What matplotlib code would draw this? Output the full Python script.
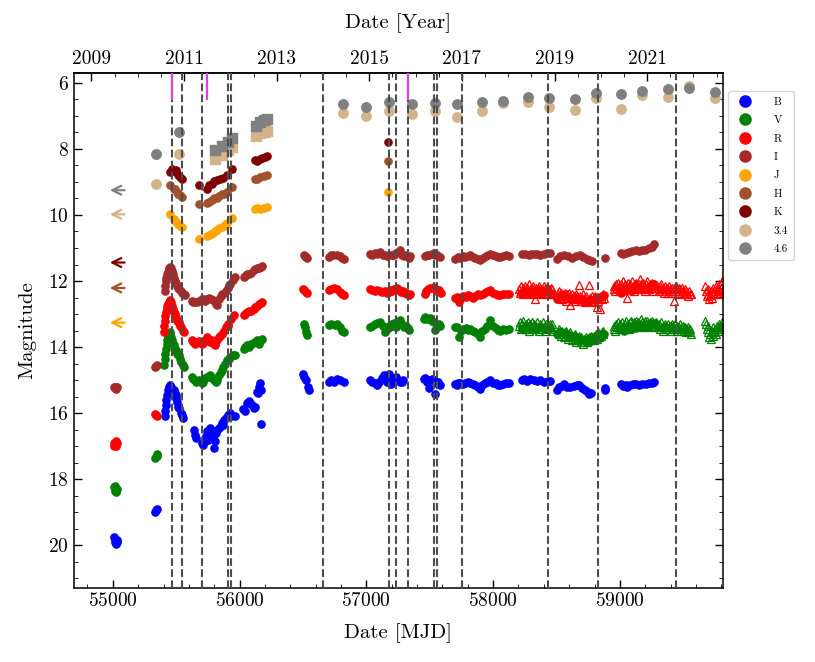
import matplotlib
matplotlib.use("Agg")
import matplotlib.pyplot as plt
from matplotlib.ticker import MultipleLocator, FixedLocator, AutoMinorLocator, FormatStrFormatter

# ── Optical light curves (filled circles) ──────────────────────────────────────
B_mjd = [55010, 55015, 55020, 55025, 55030, 55035,
         55335, 55342, 55350,
         55408, 55412, 55418, 55422, 55428, 55434, 55440, 55446, 55452, 55458,
         55480, 55488, 55495, 55502, 55510, 55518, 55525, 55535, 55545, 55555,
         55640, 55648, 55655, 55700, 55712, 55725, 55735, 55742, 55750, 55760, 55770,
         55780, 55790, 55800, 55805, 55815, 55825, 55835, 55850, 55860, 55870, 55880,
         55895, 55910, 55925, 55935, 55960,
         56030, 56045, 56060, 56072, 56085, 56100, 56115, 56125, 56135, 56145, 56155,
         56163, 56170, 56165,
         56500, 56510, 56525, 56540, 56545,
         56705, 56720, 56745, 56768, 56790, 56820,
         57025, 57045, 57070, 57084, 57100, 57120, 57136, 57150, 57165, 57175, 57185,
         57195, 57205, 57220, 57235, 57250, 57265, 57281, 57290,
         57455, 57465, 57480, 57491, 57505, 57520, 57530, 57538, 57550, 57565, 57583,
         57700, 57712, 57725, 57740, 57760, 57780, 57800, 57820, 57840, 57860, 57880,
         57899, 57915, 57935, 57955, 57978, 58000, 58020, 58040, 58057, 58080, 58100, 58122,
         58225, 58245, 58265, 58294, 58320, 58345, 58373, 58400, 58430, 58450,
         58500, 58520, 58540, 58557, 58580, 58610, 58640, 58660, 58675, 58700, 58728,
         58745, 58760, 58775, 58880, 58886,
         59005, 59025, 59045, 59057, 59080, 59100, 59123, 59150, 59175, 59202, 59230,
         59250, 59267]
B_mag = [19.75, 19.9, 19.8, 19.95, 19.85, 19.9,
         18.98, 18.93, 18.9,
         16.1, 15.95, 15.75, 15.6, 15.45, 15.3, 15.25, 15.2, 15.16, 15.2,
         15.3, 15.4, 15.45, 15.55, 15.65, 15.8, 15.85, 16.0, 16.05, 16.15,
         16.5, 16.65, 16.75, 16.9, 16.95, 16.85, 16.7, 16.55, 16.8, 16.6, 16.45,
         16.55, 16.7, 17.05, 16.85, 16.6, 16.5, 16.45, 16.4, 16.3, 16.35, 16.2,
         16.15, 16.05, 16.0, 16.1, 16.1,
         15.87, 15.95, 15.7, 15.62, 15.7, 15.75, 15.85, 15.8, 15.35, 15.4, 15.2,
         15.1, 15.3, 16.32,
         14.81, 14.9, 15.01, 15.2, 15.3,
         15.05, 15.01, 15.05, 14.96, 15.0, 15.06,
         14.99, 15.05, 15.1, 15.16, 15.05, 14.95, 14.86, 14.95, 15.05, 14.81, 14.9,
         15.11, 15.0, 14.95, 14.91, 15.0, 15.05, 15.06, 15.0,
         14.96, 14.95, 15.05, 15.23, 15.0, 14.98, 15.01, 15.41, 15.1, 15.05, 15.16,
         15.11, 15.15, 15.1, 15.08, 15.12, 15.1, 15.06, 15.09, 15.12, 15.15, 15.2,
         15.26, 15.15, 15.1, 15.06, 15.01, 15.08, 15.1, 15.14, 15.16, 15.12, 15.1, 15.09,
         15.01, 14.98, 15.02, 14.96, 15.0, 15.03, 15.01, 15.05, 15.04, 15.02,
         15.29, 15.2, 15.18, 15.13, 15.2, 15.21, 15.19, 15.15, 15.16, 15.24, 15.31,
         15.36, 15.41, 15.38, 15.25, 15.31,
         15.13, 15.18, 15.15, 15.21, 15.14, 15.12, 15.11, 15.15, 15.13, 15.13, 15.1,
         15.08, 15.06]

V_mjd = [55010, 55015, 55020, 55025, 55030,
         55335, 55345, 55352,
         55405, 55410, 55415, 55420, 55425, 55430, 55436, 55442, 55448, 55455, 55462,
         55470, 55478, 55485, 55492, 55500, 55510, 55520, 55530, 55540, 55550, 55560,
         55625, 55635, 55645, 55660, 55680, 55700, 55715, 55730, 55745, 55760, 55768,
         55780, 55795, 55810, 55821, 55835, 55850, 55860, 55873, 55885, 55900, 55915,
         55926, 55945, 55965,
         56031, 56045, 56060, 56075, 56090, 56105, 56120, 56135, 56150, 56165, 56176,
         56505, 56515, 56525, 56535,
         56705, 56725, 56750, 56768, 56790, 56810, 56822,
         57025, 57045, 57065, 57085, 57110, 57130, 57150, 57160, 57175, 57190, 57205,
         57220, 57235, 57250, 57268, 57280, 57295, 57310, 57325, 57333,
         57455, 57465, 57480, 57500, 57515, 57530, 57544, 57555, 57570, 57583,
         57700, 57715, 57728, 57745, 57765, 57785, 57805, 57820, 57840, 57860, 57880,
         57899, 57915, 57935, 57955, 57978, 58000, 58020, 58040, 58057, 58080, 58100, 58122,
         58230, 58260, 58300, 58340, 58380, 58420, 58450, 58500, 58530, 58560, 58600,
         58640, 58680, 58720, 58754, 58780, 58810, 58840, 58872,
         59005, 59030, 59060, 59090, 59120, 59150, 59180, 59210, 59240, 59267]
V_mag = [18.25, 18.35, 18.2, 18.4, 18.3,
         17.35, 17.3, 17.25,
         14.55, 14.35, 14.2, 14.05, 13.9, 13.8, 13.7, 13.6, 13.55, 13.6, 13.7,
         13.8, 13.9, 13.95, 14.05, 14.1, 14.2, 14.25, 14.35, 14.45, 14.55, 14.6,
         14.9, 14.96, 15.0, 15.05, 15.0, 15.08, 15.06, 14.95, 14.9, 14.88, 14.86,
         14.95, 15.0, 15.05, 15.01, 14.85, 14.75, 14.7, 14.61, 14.5, 14.4, 14.35,
         14.3, 14.25, 14.25,
         14.05, 14.0, 13.95, 14.0, 13.92, 13.88, 13.85, 13.8, 13.9, 13.78, 13.75,
         13.3, 13.38, 13.55, 13.62,
         13.34, 13.3, 13.32, 13.29, 13.4, 13.5, 13.55,
         13.39, 13.35, 13.3, 13.28, 13.24, 13.35, 13.55, 13.45, 13.35, 13.4, 13.3,
         13.28, 13.38, 13.3, 13.19, 13.3, 13.4, 13.35, 13.42, 13.49,
         13.15, 13.09, 13.15, 13.12, 13.2, 13.25, 13.49, 13.35, 13.3, 13.35,
         13.4, 13.39, 13.7, 13.5, 13.45, 13.42, 13.48, 13.45, 13.5, 13.55, 13.6,
         13.7, 13.5, 13.45, 13.35, 13.19, 13.35, 13.42, 13.48, 13.5, 13.45, 13.48, 13.45,
         13.45, 13.4, 13.42, 13.45, 13.4, 13.45, 13.42, 13.6, 13.55, 13.58, 13.62,
         13.65, 13.72, 13.78, 13.85, 13.8, 13.75, 13.7, 13.59,
         13.45, 13.5, 13.4, 13.45, 13.42, 13.38, 13.35, 13.4, 13.3, 13.28]

R_mjd = [55008, 55012, 55018, 55022, 55026, 55030,
         55335, 55342, 55350,
         55400, 55405, 55410, 55415, 55420, 55425, 55430, 55436, 55442, 55448, 55455,
         55462, 55470, 55478, 55485, 55492, 55500, 55510, 55520, 55530, 55540, 55550, 55560,
         55625, 55636, 55650, 55662, 55680, 55700, 55715, 55730, 55742, 55755, 55770,
         55785, 55795, 55807, 55820, 55835, 55848, 55860, 55875, 55890, 55905, 55912,
         55930, 55952,
         56031, 56045, 56060, 56075, 56090, 56110, 56125, 56140, 56155, 56165, 56176,
         56500, 56510, 56520, 56530,
         56705, 56725, 56745, 56768, 56790, 56805, 56820,
         57025, 57045, 57065, 57085, 57105, 57125, 57145, 57160, 57175, 57190, 57205,
         57220, 57242, 57260, 57275, 57290, 57305, 57320, 57335, 57345,
         57460, 57470, 57485, 57500, 57515, 57530, 57545, 57560, 57575, 57585,
         57700, 57715, 57728, 57745, 57765, 57785, 57805, 57820, 57840, 57860, 57880,
         57899, 57920, 57940, 57960, 57978, 58000, 58020, 58040, 58057, 58080, 58100, 58122,
         58220, 58250, 58280, 58310, 58340, 58370, 58400, 58430, 58460, 58504, 58530,
         58560, 58590, 58620, 58650, 58680, 58710, 58741, 58770, 58800, 58830, 58860, 58872,
         59005, 59030, 59060, 59090, 59120, 59150, 59180, 59210, 59240, 59267]
R_mag = [16.9, 17.0, 16.95, 16.85, 17.0, 16.9,
         16.02, 16.05, 16.1,
         13.55, 13.35, 13.2, 13.05, 12.95, 12.85, 12.75, 12.7, 12.62, 12.58, 12.6,
         12.65, 12.75, 12.85, 12.95, 13.0, 13.1, 13.2, 13.25, 13.35, 13.4, 13.5, 13.55,
         13.8, 13.85, 13.9, 13.85, 13.82, 13.9, 13.88, 13.8, 13.7, 13.78, 13.85,
         13.8, 13.9, 13.95, 13.8, 13.7, 13.65, 13.59, 13.5, 13.4, 13.35, 13.29,
         13.15, 13.04,
         13.04, 13.0, 12.95, 12.9, 12.92, 12.84, 12.8, 12.75, 12.7, 12.68, 12.64,
         12.25, 12.28, 12.32, 12.35,
         12.28, 12.25, 12.22, 12.25, 12.32, 12.38, 12.41,
         12.23, 12.28, 12.3, 12.27, 12.3, 12.33, 12.3, 12.35, 12.33, 12.28, 12.3,
         12.25, 12.2, 12.28, 12.32, 12.3, 12.35, 12.38, 12.43, 12.4,
         12.4, 12.3, 12.25, 12.22, 12.2, 12.18, 12.25, 12.3, 12.28, 12.35,
         12.5, 12.48, 12.64, 12.5, 12.45, 12.48, 12.42, 12.45, 12.5, 12.45, 12.4,
         12.43, 12.38, 12.32, 12.3, 12.28, 12.35, 12.4, 12.42, 12.43, 12.38, 12.4, 12.38,
         12.35, 12.3, 12.35, 12.32, 12.3, 12.35, 12.32, 12.3, 12.4, 12.54, 12.45,
         12.42, 12.48, 12.5, 12.52, 12.55, 12.6, 12.64, 12.58, 12.55, 12.5, 12.45, 12.43,
         12.35, 12.3, 12.25, 12.3, 12.25, 12.2, 12.25, 12.2, 12.15, 12.1]

I_mjd = [55010, 55015, 55020, 55025, 55030,
         55335, 55342, 55350,
         55408, 55412, 55418, 55422, 55428, 55434, 55440, 55446, 55452, 55458, 55465,
         55472, 55480, 55488, 55495, 55505, 55515, 55525, 55535, 55545, 55560, 55571,
         55625, 55636, 55650, 55665, 55680, 55700, 55715, 55730, 55745, 55760, 55775,
         55794, 55810, 55821, 55835, 55850, 55865, 55873, 55890, 55905, 55915, 55926,
         55945, 55965,
         56031, 56045, 56060, 56075, 56090, 56110, 56125, 56140, 56155, 56165, 56176,
         56505, 56515, 56525, 56535,
         56702, 56720, 56740, 56768, 56790, 56805, 56820,
         57025, 57045, 57065, 57085, 57110, 57130, 57150, 57163, 57180, 57200, 57215,
         57230, 57250, 57268, 57285, 57300, 57315, 57333, 57345,
         57460, 57475, 57495, 57515, 57530, 57545, 57560, 57583,
         57700, 57720, 57740, 57760, 57780, 57800, 57820, 57840, 57860, 57880, 57899,
         57920, 57940, 57960, 57978, 58000, 58020, 58040, 58057, 58080, 58100, 58122,
         58228, 58250, 58280, 58300, 58320, 58346, 58370, 58400, 58425, 58452,
         58504, 58530, 58557, 58590, 58623, 58650, 58688, 58710, 58741, 58760, 58781,
         58886,
         59005, 59025, 59045, 59070, 59095, 59123, 59150, 59175, 59200, 59230, 59254, 59272]
I_mag = [15.2, 15.25, 15.22, 15.28, 15.2,
         14.6, 14.58, 14.55,
         12.3, 12.15, 12.0, 11.9, 11.8, 11.72, 11.65, 11.6, 11.58, 11.62, 11.7,
         11.8, 11.9, 12.0, 12.05, 12.15, 12.2, 12.25, 12.3, 12.35, 12.4, 12.43,
         12.6, 12.64, 12.62, 12.65, 12.6, 12.55, 12.53, 12.6, 12.55, 12.5, 12.55,
         12.58, 12.7, 12.74, 12.55, 12.45, 12.4, 12.38, 12.3, 12.2, 12.12, 12.08,
         11.98, 11.88,
         11.88, 11.85, 11.8, 11.78, 11.75, 11.68, 11.65, 11.62, 11.6, 11.58, 11.55,
         11.22, 11.25, 11.28, 11.3,
         11.27, 11.22, 11.2, 11.2, 11.25, 11.3, 11.34,
         11.17, 11.2, 11.15, 11.17, 11.12, 11.2, 11.22, 11.25, 11.22, 11.2, 11.2,
         11.15, 11.12, 11.07, 11.2, 11.25, 11.22, 11.29, 11.25,
         11.25, 11.22, 11.2, 11.18, 11.15, 11.2, 11.22, 11.27,
         11.32, 11.28, 11.3, 11.25, 11.27, 11.24, 11.22, 11.28, 11.3, 11.33, 11.37,
         11.3, 11.25, 11.2, 11.17, 11.22, 11.25, 11.28, 11.27, 11.25, 11.22, 11.25,
         11.19, 11.18, 11.2, 11.17, 11.17, 11.17, 11.2, 11.18, 11.15, 11.15,
         11.32, 11.25, 11.22, 11.25, 11.29, 11.25, 11.22, 11.27, 11.34, 11.37, 11.39,
         11.29,
         11.15, 11.17, 11.15, 11.12, 11.1, 11.07, 11.08, 11.05, 11.05, 11.0, 10.97, 10.89]

# ── Optical survey points (open triangles), (MJD, mag) per epoch ───────────────
Vt_points = [
    (58205, 13.35), (58212, 13.25), (58218, 13.45), (58225, 13.3), (58232, 13.4),
    (58238, 13.2), (58245, 13.35), (58252, 13.45), (58258, 13.3), (58265, 13.4),
    (58272, 13.25), (58278, 13.35), (58285, 13.5), (58292, 13.3), (58298, 13.4),
    (58305, 13.25), (58312, 13.45), (58318, 13.35), (58325, 13.3), (58333, 13.45),
    (58340, 13.35), (58347, 13.25), (58353, 13.4), (58360, 13.5), (58367, 13.3),
    (58373, 13.4), (58380, 13.35), (58387, 13.45), (58393, 13.25), (58400, 13.4),
    (58407, 13.35), (58413, 13.5), (58420, 13.3), (58427, 13.4), (58433, 13.45),
    (58440, 13.35), (58447, 13.3), (58453, 13.45), (58460, 13.4), (58467, 13.29),
    (58473, 13.5),
    (58510, 13.5), (58517, 13.6), (58523, 13.45), (58530, 13.55), (58537, 13.65),
    (58543, 13.5), (58550, 13.6), (58557, 13.7), (58563, 13.55), (58570, 13.65),
    (58577, 13.5), (58583, 13.6), (58590, 13.75), (58597, 13.6), (58603, 13.7),
    (58610, 13.55), (58617, 13.65), (58623, 13.8), (58630, 13.65), (58637, 13.7),
    (58643, 13.6), (58650, 13.75), (58657, 13.85), (58663, 13.7), (58670, 13.8),
    (58677, 13.65), (58683, 13.75), (58690, 13.85), (58697, 13.7), (58703, 13.8),
    (58710, 13.9), (58717, 13.75), (58723, 13.8), (58730, 13.7), (58737, 13.85),
    (58743, 13.75), (58750, 13.8), (58757, 13.7), (58763, 13.8), (58770, 13.65),
    (58777, 13.75), (58783, 13.7), (58790, 13.8), (58797, 13.65), (58803, 13.7),
    (58810, 13.6), (58817, 13.75), (58823, 13.65), (58830, 13.55), (58837, 13.7),
    (58843, 13.6), (58850, 13.65), (58857, 13.55), (58863, 13.6), (58870, 13.5),
    (58950, 13.45), (58957, 13.35), (58963, 13.5), (58970, 13.3), (58977, 13.4),
    (58983, 13.25), (58990, 13.45), (58997, 13.35), (59003, 13.3), (59010, 13.45),
    (59017, 13.25), (59023, 13.35), (59030, 13.4), (59037, 13.3), (59043, 13.45),
    (59050, 13.2), (59057, 13.35), (59063, 13.3), (59070, 13.45), (59077, 13.25),
    (59083, 13.35), (59090, 13.2), (59097, 13.4), (59103, 13.3), (59110, 13.25),
    (59117, 13.4), (59123, 13.3), (59130, 13.2), (59137, 13.35), (59143, 13.25),
    (59150, 13.4), (59157, 13.3), (59163, 13.15), (59170, 13.35), (59177, 13.25),
    (59183, 13.3), (59190, 13.4), (59197, 13.2), (59203, 13.3), (59210, 13.35),
    (59217, 13.2), (59223, 13.3), (59230, 13.4), (59237, 13.25), (59243, 13.35),
    (59250, 13.3), (59257, 13.2), (59263, 13.35), (59270, 13.3), (59277, 13.4),
    (59283, 13.25),
    (59300, 13.4), (59307, 13.3), (59313, 13.45), (59320, 13.35), (59327, 13.25),
    (59333, 13.4), (59340, 13.5), (59347, 13.35), (59353, 13.3), (59360, 13.45),
    (59367, 13.35), (59373, 13.4), (59380, 13.3), (59387, 13.45), (59393, 13.35),
    (59400, 13.5), (59407, 13.3), (59413, 13.4), (59420, 13.35), (59427, 13.45),
    (59433, 13.3), (59440, 13.4), (59447, 13.5), (59453, 13.35), (59460, 13.45),
    (59467, 13.4), (59473, 13.3), (59480, 13.5), (59487, 13.4), (59493, 13.45),
    (59500, 13.35), (59507, 13.5), (59513, 13.4), (59520, 13.55), (59527, 13.45),
    (59533, 13.5), (59540, 13.4), (59547, 13.55), (59553, 13.45), (59560, 13.6),
    (59672, 13.2), (59678, 13.3), (59685, 13.45), (59692, 13.55), (59698, 13.35),
    (59705, 13.7), (59712, 13.6), (59718, 13.75), (59725, 13.5), (59732, 13.65),
    (59738, 13.4), (59745, 13.55), (59752, 13.45), (59758, 13.6), (59765, 13.35),
    (59772, 13.5), (59778, 13.4), (59785, 13.3), (59792, 13.45), (59798, 13.35),
    (59805, 13.25), (59812, 13.4),
]

Rt_points = [
    (58205, 12.25), (58212, 12.35), (58218, 12.15), (58225, 12.3), (58232, 12.2),
    (58238, 12.4), (58245, 12.25), (58252, 12.15), (58258, 12.3), (58265, 12.2),
    (58272, 12.35), (58278, 12.25), (58285, 12.1), (58292, 12.3), (58298, 12.2),
    (58305, 12.4), (58312, 12.25), (58318, 12.15), (58325, 12.3), (58333, 12.54),
    (58340, 12.2), (58347, 12.35), (58353, 12.25), (58360, 12.15), (58367, 12.3),
    (58373, 12.2), (58380, 12.4), (58387, 12.25), (58393, 12.3), (58400, 12.15),
    (58407, 12.35), (58413, 12.25), (58420, 12.2), (58427, 12.3), (58433, 12.4),
    (58440, 12.25), (58447, 12.3), (58453, 12.2), (58460, 12.35), (58467, 12.25),
    (58473, 12.4),
    (58510, 12.4), (58517, 12.5), (58523, 12.3), (58530, 12.45), (58537, 12.35),
    (58543, 12.55), (58550, 12.4), (58557, 12.5), (58563, 12.35), (58570, 12.45),
    (58577, 12.6), (58583, 12.4), (58590, 12.5), (58597, 12.35), (58603, 12.45),
    (58610, 12.74), (58617, 12.5), (58623, 12.4), (58630, 12.55), (58637, 12.45),
    (58643, 12.6), (58650, 12.4), (58657, 12.5), (58663, 12.45), (58675, 12.13),
    (58682, 12.55), (58688, 12.45), (58695, 12.6), (58702, 12.5), (58708, 12.4),
    (58715, 12.55), (58722, 12.65), (58728, 12.5), (58735, 12.45), (58742, 12.6),
    (58754, 12.13), (58760, 12.55), (58767, 12.5), (58773, 12.6), (58780, 12.45),
    (58787, 12.55), (58793, 12.65), (58800, 12.5), (58807, 12.45), (58813, 12.55),
    (58820, 12.79), (58827, 12.6), (58833, 12.5), (58846, 12.84), (58853, 12.45),
    (58860, 12.55), (58867, 12.4), (58873, 12.5),
    (58950, 12.25), (58957, 12.15), (58963, 12.3), (58970, 12.1), (58977, 12.2),
    (58983, 12.05), (58990, 12.25), (58997, 12.15), (59003, 12.3), (59010, 12.1),
    (59017, 12.2), (59023, 12.0), (59030, 12.15), (59037, 12.25), (59043, 12.1),
    (59050, 12.2), (59057, 12.5), (59063, 12.05), (59070, 12.15), (59077, 12.25),
    (59083, 12.1), (59090, 12.2), (59097, 12.0), (59103, 12.15), (59110, 12.3),
    (59117, 12.1), (59123, 12.2), (59130, 12.05), (59137, 12.15), (59143, 12.25),
    (59150, 12.1), (59157, 11.95), (59163, 12.2), (59170, 12.1), (59177, 12.25),
    (59183, 12.05), (59190, 12.15), (59197, 12.3), (59203, 12.1), (59210, 12.2),
    (59217, 12.0), (59223, 12.15), (59230, 12.25), (59237, 12.1), (59243, 12.2),
    (59250, 12.05), (59257, 12.15), (59263, 12.3), (59270, 12.1), (59277, 12.2),
    (59283, 12.15),
    (59300, 12.2), (59307, 12.3), (59313, 12.15), (59320, 12.25), (59327, 12.1),
    (59333, 12.3), (59340, 12.2), (59347, 12.35), (59353, 12.15), (59360, 12.25),
    (59367, 12.3), (59373, 12.2), (59380, 12.35), (59387, 12.15), (59393, 12.25),
    (59400, 12.3), (59407, 12.2), (59413, 12.35), (59424, 12.61), (59430, 12.2),
    (59437, 12.3), (59443, 12.15), (59450, 12.25), (59457, 12.35), (59463, 12.2),
    (59470, 12.3), (59477, 12.25), (59483, 12.4), (59490, 12.2), (59497, 12.3),
    (59503, 12.35), (59510, 12.25), (59517, 12.4), (59523, 12.3), (59530, 12.35),
    (59537, 12.45), (59543, 12.3), (59550, 12.4), (59557, 12.38),
    (59672, 12.15), (59678, 12.3), (59685, 12.45), (59692, 12.25), (59698, 12.4),
    (59705, 12.55), (59712, 12.43), (59718, 12.3), (59725, 12.5), (59732, 12.35),
    (59738, 12.2), (59745, 12.4), (59752, 12.3), (59758, 12.15), (59765, 12.35),
    (59772, 12.25), (59778, 12.4), (59785, 12.1), (59792, 12.3), (59798, 12.2),
    (59805, 12.0), (59812, 12.35),
]

# ── Near-infrared ──────────────────────────────────────────────────────────────
J_mjd = [55450, 55480, 55500, 55518, 55530, 55544,
         55676, 55745, 55760, 55775, 55790, 55805, 55820, 55840, 55860, 55875, 55890,
         55900, 55939,
         56125, 56140, 56160, 56190, 56215,
         57168]
J_mag = [9.96, 10.12, 10.2, 10.26, 10.32, 10.36,
         10.72, 10.65, 10.62, 10.58, 10.55, 10.5, 10.45, 10.4, 10.36, 10.32, 10.28,
         10.25, 10.08,
         9.82, 9.8, 9.82, 9.78, 9.76,
         9.30]

H_mjd = [55450, 55480, 55492, 55505, 55518, 55531, 55545,
         55676, 55742, 55760, 55780, 55800, 55821, 55840, 55860, 55880, 55900, 55939,
         56125, 56140, 56160, 56190, 56215,
         57168]
H_mag = [9.1, 9.2, 9.2, 9.3, 9.35, 9.4, 9.45,
         9.68, 9.65, 9.62, 9.55, 9.5, 9.48, 9.42, 9.38, 9.35, 9.3, 9.15,
         8.92, 8.9, 8.85, 8.82, 8.8,
         8.36]

K_mjd = [55450, 55466, 55480, 55500, 55515, 55531, 55545,
         55676, 55742, 55760, 55780, 55800, 55820, 55845, 55873, 55900, 55939,
         56125, 56140, 56160, 56176, 56200, 56215,
         57168]
K_mag = [8.70, 8.6, 8.68, 8.65, 8.8, 8.85, 8.9,
         9.10, 9.2, 9.1, 9.05, 8.98, 8.95, 8.9, 8.87, 8.8, 8.6,
         8.35, 8.38, 8.3, 8.28, 8.25, 8.22,
         7.79]

# ── Mid-infrared 3.4 / 4.6 micron (circles) and square points ──────────────────
W1_mjd = [55342, 55526, 56815, 56997, 57175, 57360, 57544, 57715, 57912, 58078,
          58275, 58444, 58649, 58812, 59012, 59178, 59377, 59543, 59748]
W1_mag = [9.05, 8.16, 6.90, 7.01, 6.85, 6.93, 6.86, 7.03, 6.85, 6.62,
          6.58, 6.73, 6.81, 6.47, 6.80, 6.37, 6.42, 6.09, 6.47]
W2_mjd = W1_mjd
W2_mag = [8.16, 7.48, 6.65, 6.73, 6.58, 6.65, 6.62, 6.65, 6.58, 6.55,
          6.44, 6.45, 6.49, 6.32, 6.34, 6.25, 6.19, 6.17, 6.27]

S1_mjd = [55805, 55860, 55910, 55940, 56130, 56160, 56190, 56215]
S1_mag = [8.30, 8.18, 8.02, 7.95, 7.62, 7.52, 7.48, 7.45]
S2_mjd = S1_mjd
S2_mag = [8.03, 7.92, 7.80, 7.68, 7.30, 7.18, 7.13, 7.10]

# ── Upper limits (arrows) ──────────────────────────────────────────────────────
LIM_BANDS = ["4.6", "3.4", "K", "H", "J"]
LIM_MAG = [9.25, 9.98, 11.44, 12.21, 13.26]
LIM_HEAD, LIM_TAIL = 54955, 55115

# ── Epoch markers ──────────────────────────────────────────────────────────────
DASHED_MJD = [55466, 55545, 55702, 55906, 55930, 56657, 57181, 57234, 57325,
              57534, 57560, 57755, 58436, 58828, 59446]
MAGENTA_MJD = [55466, 55742, 57325]

YEAR_TICKS = [2009, 2011, 2013, 2015, 2017, 2019, 2021]

COLORS = {"B": "blue", "V": "green", "R": "red", "I": "brown", "J": "orange",
          "H": "sienna", "K": "maroon", "3.4": "tan", "4.6": "gray"}

plt.rcParams.update({
    "font.family": "serif",
    "font.serif": ["cmr10"],
    "mathtext.fontset": "cm",
    "axes.formatter.use_mathtext": True,
    "axes.unicode_minus": False,
    "axes.linewidth": 1.1,
    "xtick.direction": "in",
    "ytick.direction": "in",
    "xtick.major.size": 6,
    "ytick.major.size": 6,
    "xtick.minor.size": 3,
    "ytick.minor.size": 3,
    "xtick.major.width": 1.0,
    "ytick.major.width": 1.0,
    "xtick.labelsize": 14,
    "ytick.labelsize": 14,
    "axes.labelsize": 15,
})


def mjd2year(m):
    return 2000.0 + (m - 51544.5) / 365.25


def year2mjd(y):
    return (y - 2000.0) * 365.25 + 51544.5


fig = plt.figure(figsize=(8.15, 6.62), dpi=100)
ax = fig.add_axes([0.0902, 0.1125, 0.7972, 0.7768])

ms = 5.2
ax.plot(B_mjd, B_mag, "o", color=COLORS["B"], ms=ms, ls="none", label="B", zorder=2)
ax.plot(V_mjd, V_mag, "o", color=COLORS["V"], ms=ms, ls="none", label="V", zorder=2)
ax.plot(R_mjd, R_mag, "o", color=COLORS["R"], ms=ms, ls="none", label="R", zorder=2)
ax.plot(I_mjd, I_mag, "o", color=COLORS["I"], ms=ms, ls="none", label="I", zorder=2)
ax.plot(J_mjd, J_mag, "o", color=COLORS["J"], ms=ms, ls="none", label="J", zorder=2)
ax.plot(H_mjd, H_mag, "o", color=COLORS["H"], ms=ms, ls="none", label="H", zorder=2)
ax.plot(K_mjd, K_mag, "o", color=COLORS["K"], ms=ms, ls="none", label="K", zorder=2)
ax.plot(W1_mjd, W1_mag, "o", color=COLORS["3.4"], ms=6.8, ls="none", label="3.4", zorder=2)
ax.plot(W2_mjd, W2_mag, "o", color=COLORS["4.6"], ms=6.8, ls="none", label="4.6", zorder=2)
ax.plot(S1_mjd, S1_mag, "s", color=COLORS["3.4"], ms=7.5, ls="none", zorder=2)
ax.plot(S2_mjd, S2_mag, "s", color=COLORS["4.6"], ms=7.5, ls="none", zorder=2)

# survey photometry: open triangles
for pts, band in ((Vt_points, "V"), (Rt_points, "R")):
    ax.plot([p[0] for p in pts], [p[1] for p in pts], "^", mfc="none",
            mec=COLORS[band], mew=0.9, ms=5.5, ls="none", zorder=2)

for band, m in zip(LIM_BANDS, LIM_MAG):
    ax.annotate("", xy=(LIM_HEAD, m), xytext=(LIM_TAIL, m),
                arrowprops=dict(arrowstyle="->", color=COLORS[band], lw=1.6,
                                mutation_scale=16))

for x in DASHED_MJD:
    ax.axvline(x, color="0.3", ls="--", lw=1.5, zorder=3)
for x in MAGENTA_MJD:
    ax.axvline(x, ymin=0.95, ymax=1.0, color="#e040e0", lw=1.6, zorder=4)

ax.set_xlim(54690, 59815)
ax.set_ylim(21.28, 5.71)
ax.xaxis.set_major_locator(MultipleLocator(1000))
ax.xaxis.set_minor_locator(MultipleLocator(200))
ax.yaxis.set_major_locator(MultipleLocator(2))
ax.yaxis.set_minor_locator(MultipleLocator(0.5))
ax.tick_params(which="both", right=True, top=False)
ax.set_xlabel("Date [MJD]", labelpad=9)
ax.set_ylabel("Magnitude", labelpad=8)

sec = ax.secondary_xaxis("top", functions=(mjd2year, year2mjd))
sec.xaxis.set_major_locator(FixedLocator(YEAR_TICKS))
sec.xaxis.set_minor_locator(AutoMinorLocator(4))
sec.xaxis.set_major_formatter(FormatStrFormatter("%d"))
sec.tick_params(which="both", direction="in")
sec.set_xlabel("Date [Year]", labelpad=16)

leg = ax.legend(loc="upper left", bbox_to_anchor=(1.008, 0.965), borderaxespad=0,
                fontsize=8, labelspacing=0.78, handletextpad=1.6, borderpad=0.5,
                fancybox=True, edgecolor="0.8", framealpha=0.8)
for h in leg.legend_handles:
    h.set_markersize(8)

fig.savefig("out.png", dpi=100)
